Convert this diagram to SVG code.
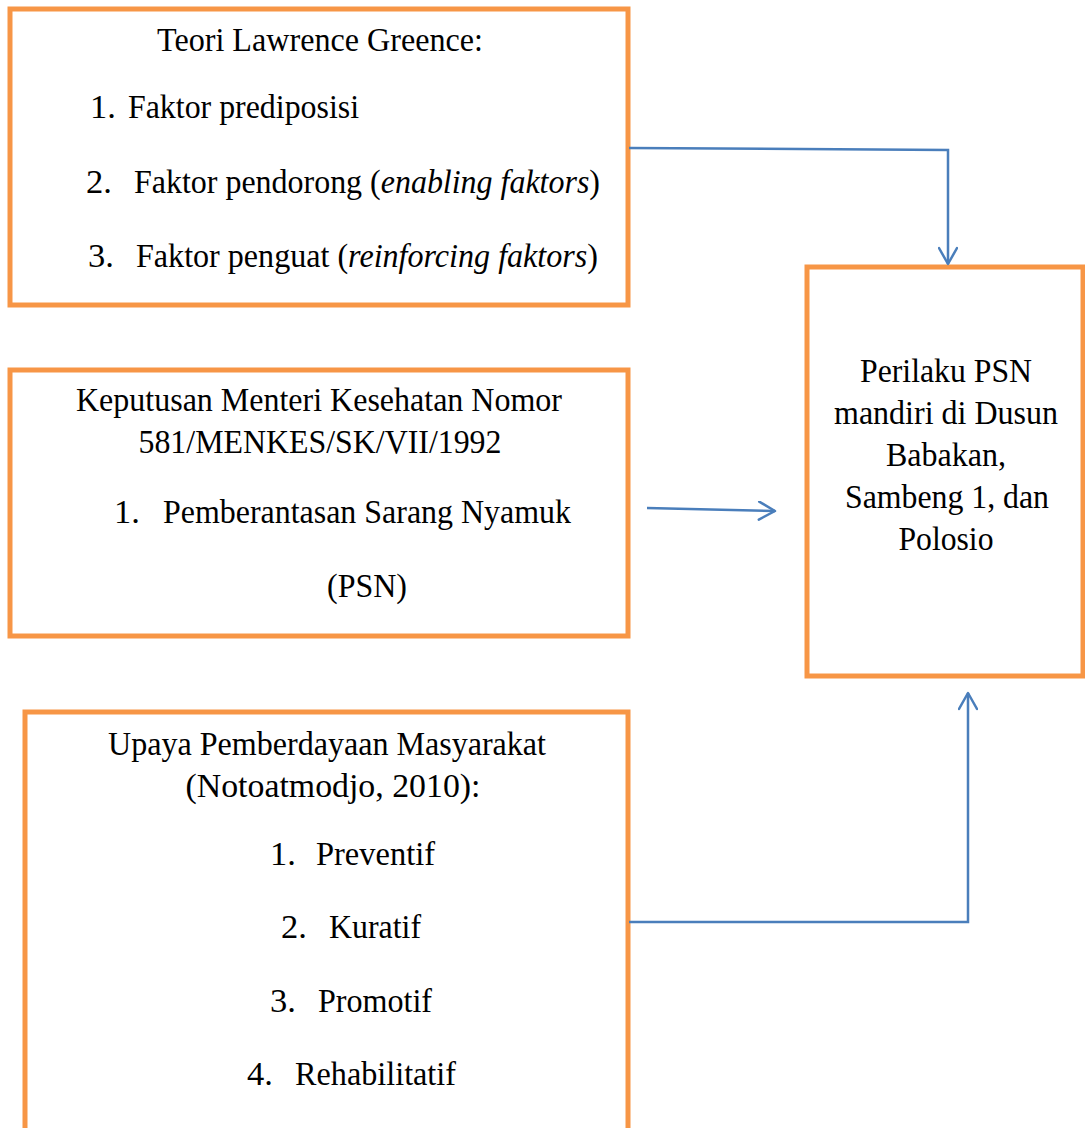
<svg xmlns="http://www.w3.org/2000/svg" width="1085" height="1128" viewBox="0 0 1085 1128">
<defs>
<style>
.box{fill:#fff;stroke:#F79646;stroke-width:5}
.t{font-family:"Liberation Serif","Times New Roman",serif;font-size:34.5px;fill:#000}
.c{text-anchor:middle}
.con{fill:none;stroke:#4A7EBB;stroke-width:2.5}
</style>
<marker id="arr" viewBox="0 0 20 20" refX="18" refY="10" markerWidth="20" markerHeight="20" markerUnits="userSpaceOnUse" orient="auto">
<path d="M2,1 L18,10 L2,19" fill="none" stroke="#4A7EBB" stroke-width="2.5" stroke-linecap="round" stroke-linejoin="round"/>
</marker>
</defs>
<rect width="1085" height="1128" fill="#fff"/>
<g id="node-teori">
<rect class="box" x="10" y="9" width="618" height="296"/>
<text class="t c" x="320" y="51" textLength="326" lengthAdjust="spacingAndGlyphs">Teori Lawrence Greence:</text>
<text class="t" x="90" y="118">1.</text>
<text class="t" x="128" y="118" textLength="231" lengthAdjust="spacingAndGlyphs">Faktor prediposisi</text>
<text class="t" x="86" y="193">2.</text>
<text class="t" x="134" y="193" textLength="466" lengthAdjust="spacingAndGlyphs">Faktor pendorong (<tspan font-style="italic">enabling faktors</tspan>)</text>
<text class="t" x="88" y="267">3.</text>
<text class="t" x="136" y="267" textLength="462" lengthAdjust="spacingAndGlyphs">Faktor penguat (<tspan font-style="italic">reinforcing faktors</tspan>)</text>
</g>
<g id="node-keputusan">
<rect class="box" x="10" y="370" width="618" height="266"/>
<text class="t c" x="319" y="411" textLength="486" lengthAdjust="spacingAndGlyphs">Keputusan Menteri Kesehatan Nomor</text>
<text class="t c" x="320" y="453" textLength="363" lengthAdjust="spacingAndGlyphs">581/MENKES/SK/VII/1992</text>
<text class="t" x="114" y="523">1.</text>
<text class="t" x="163" y="523" textLength="408" lengthAdjust="spacingAndGlyphs">Pemberantasan Sarang Nyamuk</text>
<text class="t c" x="367" y="597" textLength="80" lengthAdjust="spacingAndGlyphs">(PSN)</text>
</g>
<g id="node-upaya">
<rect class="box" x="25" y="712" width="603" height="440"/>
<text class="t c" x="327" y="755" textLength="438" lengthAdjust="spacingAndGlyphs">Upaya Pemberdayaan Masyarakat</text>
<text class="t c" x="333" y="797" textLength="295" lengthAdjust="spacingAndGlyphs">(Notoatmodjo, 2010):</text>
<text class="t" x="270" y="865">1.</text>
<text class="t" x="316" y="865" textLength="119" lengthAdjust="spacingAndGlyphs">Preventif</text>
<text class="t" x="281" y="938">2.</text>
<text class="t" x="329" y="938" textLength="92" lengthAdjust="spacingAndGlyphs">Kuratif</text>
<text class="t" x="270" y="1012">3.</text>
<text class="t" x="318" y="1012" textLength="114" lengthAdjust="spacingAndGlyphs">Promotif</text>
<text class="t" x="247" y="1085">4.</text>
<text class="t" x="295" y="1085" textLength="161" lengthAdjust="spacingAndGlyphs">Rehabilitatif</text>
</g>
<g id="node-perilaku">
<rect class="box" x="807" y="267" width="276" height="409"/>
<text class="t c" x="946" y="382" textLength="172" lengthAdjust="spacingAndGlyphs">Perilaku PSN</text>
<text class="t c" x="946" y="424" textLength="224" lengthAdjust="spacingAndGlyphs">mandiri di Dusun</text>
<text class="t c" x="946" y="466" textLength="120" lengthAdjust="spacingAndGlyphs">Babakan,</text>
<text class="t c" x="947" y="508" textLength="204" lengthAdjust="spacingAndGlyphs">Sambeng 1, dan</text>
<text class="t c" x="946" y="550" textLength="95" lengthAdjust="spacingAndGlyphs">Polosio</text>
</g>
<g id="connectors">
<path class="con" d="M629,148 L948,150 L948,264" marker-end="url(#arr)"/>
<path class="con" d="M647,508 L775,511" marker-end="url(#arr)"/>
<path class="con" d="M629,922 L968,922 L968,693" marker-end="url(#arr)"/>
</g>
</svg>
